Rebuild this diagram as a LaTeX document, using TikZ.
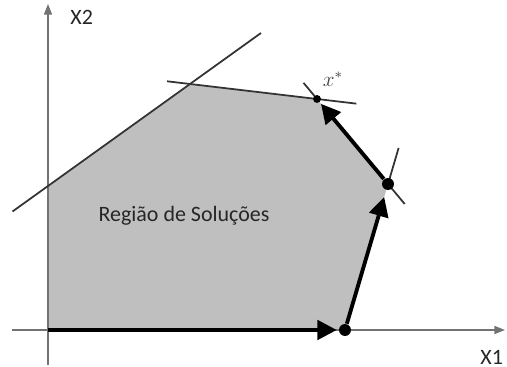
\documentclass[tikz,border=0pt]{standalone}
\usepackage{fontspec}
\setsansfont{Carlito}
\usetikzlibrary{arrows.meta, calc, positioning}

\begin{document}
\begin{tikzpicture}[x=0.02cm, y=-0.02cm, font=\sffamily\fontsize{12.5}{14}\selectfont, semithick]

  \tikzstyle{vertex}=[circle, fill=black, inner sep=0pt, minimum size=6.8pt]
  \tikzstyle{constraint}=[draw=black!80, line width=1pt]
  \tikzstyle{axis}=[-{Triangle[length=6pt, width=4.5pt]}, draw=black!55, line width=0.9pt]
  \tikzstyle{simplex}=[-{Triangle[length=11pt, width=11pt]}, line width=2.2pt, shorten >=1pt]

  \useasboundingbox (0,0) rectangle (507,367);

  \coordinate (O) at (48,330);
  \coordinate (A) at (48,186);
  \coordinate (B) at (190,84);
  \coordinate (Xs) at (317,99);
  \coordinate (Cv) at (388,184);
  \coordinate (Dv) at (345,330);

  % feasible region
  \fill[black!25] (O) -- (A) -- (B) -- (Xs) -- (Cv) -- (Dv) -- cycle;

  % axes
  \coordinate (ybot) at (48,365);
  \coordinate (ytop) at (48,4);
  \coordinate (xleft) at (12,330);
  \coordinate (xright) at (505,330);
  \draw[axis] (ybot) -- (ytop);
  \draw[axis] (xleft) -- (xright);
  \node[anchor=west, text=black!85] (x2lab) at (64,17) {X2};
  \node[anchor=west, text=black!85] (x1lab) at (474,357) {X1};

  % constraints
  \draw[constraint] ($(A)!-0.25!(B)$) -- ($(A)!1.5!(B)$);
  \draw[constraint] ($(B)!-0.18!(Xs)$) -- ($(B)!1.31!(Xs)$);
  \draw[constraint] (Xs) -- ($(Cv)!1.19!(Xs)$);
  \draw[constraint] (Cv) -- ($(Dv)!1.247!(Cv)$);
  \draw[constraint] (Cv) -- ($(Xs)!1.235!(Cv)$);

  % vertices
  \node[vertex] (D) at (Dv) {};
  \node[vertex] (C) at (Cv) {};
  \node[vertex, minimum size=4.5pt] (xstar) at (Xs) {};
  \node[font=\large, text=black!75] (xlab) at (333,79) {$x^*$};

  \node[text=black!85] (region) at (184,216) {Região de Soluções};

  % simplex path
  \draw[simplex] (O) -- (D);
  \draw[simplex, shorten >=4pt] (D) -- (C);
  \draw[simplex] (C) -- (xstar);

\end{tikzpicture}
\end{document}
